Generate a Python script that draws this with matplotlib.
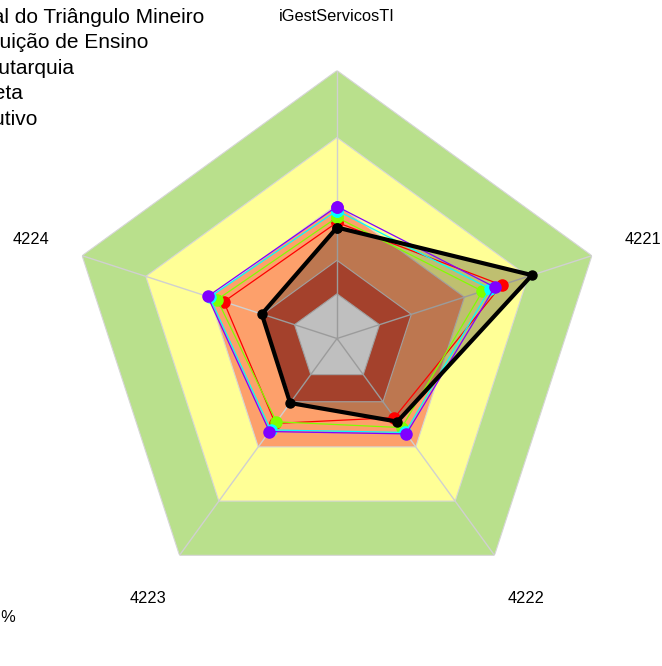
import numpy as np
import matplotlib
matplotlib.use("Agg")
import matplotlib.pyplot as plt

plt.rcParams["font.family"] = ["Liberation Sans", "DejaVu Sans"]

# eixos do radar (sentido horário a partir do topo)
eixos = ["iGestServicosTI", "4221", "4222", "4223", "4224"]

# faixas de capacidade (%)
faixas = [0, 15, 40, 70, 100]
cores_faixas = ["#DC573B", "#FDA06B", "#FFFF96", "#B9E08C"]

# séries (% por eixo)
series = ["Instituto Federal do Triângulo Mineiro",
          "Tipo: Instituição de Ensino",
          "Natureza: Autarquia",
          "Administração Indireta",
          "Poder Executivo"]
v_iftm = [29.7, 71.8, 26.0, 15.7, 15.4]
v_ensino = [32.0, 57.5, 23.8, 27.0, 33.3]
v_autarquia = [34.2, 48.5, 29.3, 26.1, 36.4]
v_indireta = [37.3, 52.0, 32.0, 30.6, 40.0]
v_executivo = [39.1, 54.3, 32.8, 31.5, 40.9]

rmin = -20

fig = plt.figure(figsize=(6.62, 6.66), dpi=100)
ax = fig.add_axes([69 / 662, 59.5 / 666, 536 / 662, 536 / 666], projection="polar")
ax.set_theta_zero_location("N")
ax.set_theta_direction(-1)
ax.set_ylim(rmin, 100)
ax.grid(False)
ax.set_xticks([])
ax.set_yticks([])
ax.spines["polar"].set_visible(False)
ax.patch.set_visible(False)

n = len(eixos)
theta = np.arange(n) * 2 * np.pi / n
tc = np.append(theta, theta[0])

# faixas, de fora para dentro
lim_sup = faixas[1:][::-1]
for lim, cor in zip(lim_sup, cores_faixas[::-1]):
    ax.fill(tc, [lim] * (n + 1), color=cor, ec="#d6d6d6", lw=0.8, zorder=1)
ax.fill(tc, [faixas[0]] * (n + 1), color="white", ec="#d6d6d6", lw=0.8, zorder=1)

# raios
for t in theta:
    ax.plot([t, t], [rmin, 100], color="#d0d0d0", lw=1, zorder=2)

def fechar(v):
    return np.append(v, v[0])

cores = ["red", "#80FF00", "cyan", "#8000FF"]
outros = [v_ensino, v_autarquia, v_indireta, v_executivo]
for v, c in zip(outros, cores):
    ax.plot(tc, fechar(v), color=c, lw=0.9, marker="o", ms=8, mec=c, zorder=4)

ax.fill(tc, fechar(v_iftm), color="black", alpha=0.25, lw=0, zorder=3)
ax.plot(tc, fechar(v_iftm), color="black", lw=3, marker="o", ms=6.5, zorder=5)

for t, nome in zip(theta, eixos):
    ax.text(t, rmin + 1.2 * (100 - rmin), nome, ha="center", va="center",
            fontsize=11.8, clip_on=False)

# legenda (cortada na borda esquerda)
x_fim = [204, 148, 74, 23, 37]
for i, (nome, x) in enumerate(zip(series, x_fim)):
    fig.text(x / 662, 1 - (23 + 25.4 * i) / 666, nome, ha="right", va="baseline",
             fontsize=15)

fig.text(16 / 662, 1 - 617 / 666, "Escala em %", ha="right", va="center", fontsize=11.8)

fig.savefig("out.png", dpi=100)
